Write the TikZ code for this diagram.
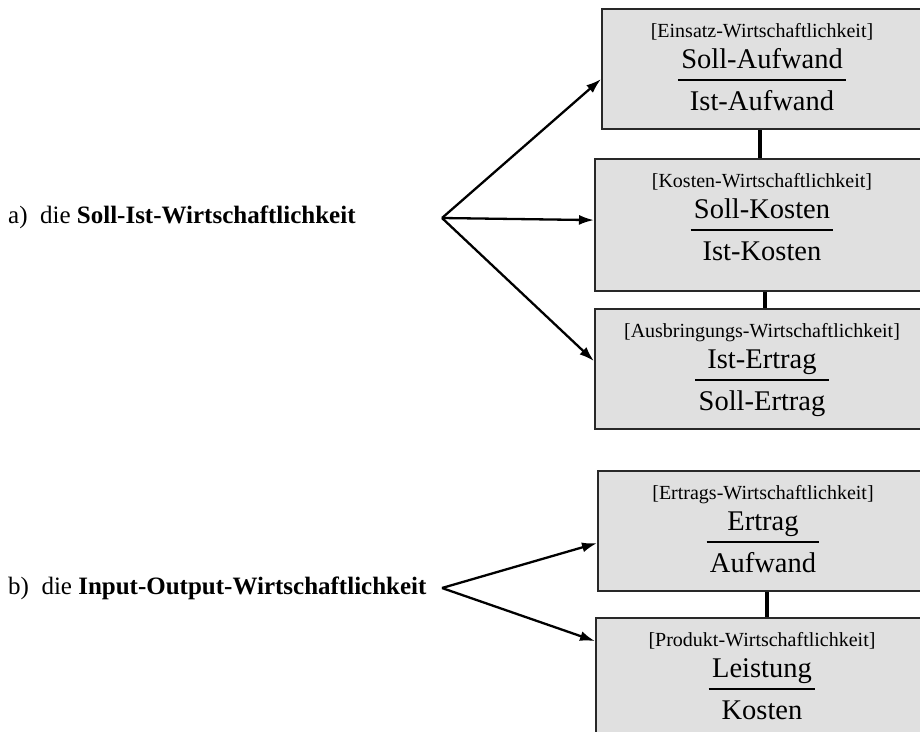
\documentclass[tikz,border=0pt]{standalone}
\usepackage{fontspec}
\setmainfont{Liberation Serif}
\usetikzlibrary{arrows.meta,fit}
\definecolor{boxgray}{RGB}{224,224,224}
\definecolor{boxedge}{RGB}{40,40,40}
\tikzset{
  wbox/.style={draw=boxedge, line width=2.2pt, fill=boxgray, inner sep=0pt, anchor=north west},
  lbl/.style={font=\fontsize{20}{24}\selectfont, anchor=base, inner sep=0pt},
  term/.style={font=\fontsize{28.5}{34}\selectfont, anchor=base, inner sep=0pt},
  head/.style={font=\fontsize{25}{30}\selectfont, anchor=base west, inner sep=0pt},
  fracline/.style={line width=1.9pt},
  link/.style={line width=3.6pt},
  arr/.style={line width=2.3pt, -{Latex[length=15pt,width=10pt]}},
}
% id, x, line y, label, numerator, denominator
\newcommand{\wfrac}[6]{%
  \coordinate (c#1) at (#2,#3);
  \node[lbl] (l#1) at ([yshift=43pt]c#1) {#4};
  \node[term] (n#1) at ([yshift=12pt]c#1) {#5};
  \node[term] (d#1) at ([yshift=-30pt]c#1) {#6};
  \node[fit=(n#1)(d#1), inner sep=0pt] (f#1) {};
  \draw[fracline] ([xshift=-3pt]f#1.west |- c#1) -- ([xshift=3pt]f#1.east |- c#1);
}
\begin{document}
\begin{tikzpicture}[x=1pt,y=-1pt]
\useasboundingbox (0,0) rectangle (920,731);
\clip (0,0) rectangle (920,731);
\fill[white] (0,0) rectangle (920,731);

% boxes
\node[wbox, minimum width=335pt, minimum height=120pt] (b1) at (601,8) {};
\node[wbox, minimum width=340pt, minimum height=132pt] (b2) at (594,158) {};
\node[wbox, minimum width=340pt, minimum height=120pt] (b3) at (594,308) {};
\node[wbox, minimum width=340pt, minimum height=120pt] (b4) at (597,470) {};
\node[wbox, minimum width=340pt, minimum height=130pt] (b5) at (595,617) {};

% box contents
\wfrac{1}{762}{80}{[Einsatz-Wirtschaftlichkeit]}{Soll-Aufwand}{Ist-Aufwand}
\wfrac{2}{762}{230}{[Kosten-Wirtschaftlichkeit]}{Soll-Kosten}{Ist-Kosten}
\wfrac{3}{762}{380}{[Ausbringungs-Wirtschaftlichkeit]}{Ist-Ertrag}{Soll-Ertrag}
\wfrac{4}{763}{542}{[Ertrags-Wirtschaftlichkeit]}{Ertrag}{Aufwand}
\wfrac{5}{762}{689}{[Produkt-Wirtschaftlichkeit]}{Leistung}{Kosten}

% links between boxes
\draw[link] (b1.south -| 760,0) -- (b2.north -| 760,0);
\draw[link] (b2.south -| 765,0) -- (b3.north -| 765,0);
\draw[link] (b4.south -| 767,0) -- (b5.north -| 767,0);

% left texts
\node[head] (ha) at (8,223) {a)\ \ die \textbf{Soll-Ist-Wirtschaftlichkeit}};
\node[head] (hb) at (8,594) {b)\ \ die \textbf{Input-Output-Wirtschaftlichkeit}};

% forks
\coordinate (fa) at (442,218);
\coordinate (fb) at (442,588);
\draw[arr] (fa) -- ([yshift=-10pt]b1.west);
\draw[arr] (fa) -- ([yshift=5pt]b2.west);
\draw[arr] (fa) -- ([yshift=8pt]b3.west);
\draw[arr] (fb) -- ([yshift=-12pt]b4.west);
\draw[arr] (fb) -- ([yshift=42pt]b5.west);
\end{tikzpicture}
\end{document}
